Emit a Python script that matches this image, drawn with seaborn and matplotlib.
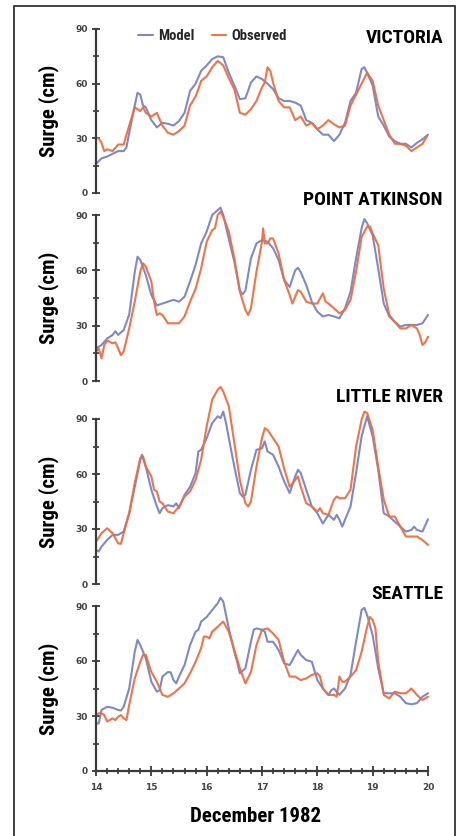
import matplotlib
matplotlib.use("Agg")
import matplotlib.pyplot as plt
import seaborn as sns
from matplotlib import font_manager as fm
from matplotlib.font_manager import FontProperties
from matplotlib.patches import Rectangle
from matplotlib.ticker import MultipleLocator

# ---------------- data ----------------
stations = ["VICTORIA", "POINT ATKINSON", "LITTLE RIVER", "SEATTLE"]
series_labels = ["Model", "Observed"]
x_ticks = [14, 15, 16, 17, 18, 19, 20]
y_ticks = [0, 30, 60, 90]
x_label = "December 1982"
y_label = "Surge (cm)"

vic_model_day = [14.0, 14.1, 14.2, 14.3, 14.4, 14.5, 14.55, 14.6, 14.7, 14.75, 14.8, 14.85, 14.9, 15.0,
                 15.1, 15.2, 15.3, 15.4, 15.5, 15.6, 15.7, 15.8, 15.9, 16.0, 16.1, 16.2, 16.3, 16.4,
                 16.5, 16.6, 16.7, 16.8, 16.9, 17.0, 17.1, 17.2, 17.3, 17.4, 17.5, 17.6, 17.7, 17.8,
                 17.9, 18.0, 18.1, 18.2, 18.3, 18.4, 18.5, 18.6, 18.7, 18.8, 18.85, 18.9, 19.0, 19.1,
                 19.2, 19.3, 19.4, 19.5, 19.6, 19.7, 19.8, 19.9, 20.0]
vic_model_cm = [16, 19, 20, 21.5, 23, 23, 25, 33, 48, 55, 54, 48, 47, 40,
                36, 38.5, 38, 37, 39.5, 44, 56, 60, 67, 70, 73.5, 75, 74.5, 66,
                59, 51.5, 52, 60.6, 64, 62.5, 60, 57, 52, 50.5, 50.5, 49.6, 48, 40,
                38.5, 35, 32, 32, 28.5, 32, 38.5, 50.5, 55, 68, 69, 66, 59, 42,
                37, 31, 28.5, 27, 27, 25, 27.5, 29.5, 32]
vic_obs_day = [14.0, 14.05, 14.1, 14.15, 14.2, 14.3, 14.4, 14.5, 14.6, 14.7, 14.8, 14.85, 14.9, 15.0,
               15.1, 15.2, 15.3, 15.4, 15.5, 15.6, 15.7, 15.8, 15.85, 15.9, 16.0, 16.1, 16.2, 16.3,
               16.4, 16.5, 16.6, 16.7, 16.8, 16.9, 17.0, 17.05, 17.1, 17.15, 17.2, 17.3, 17.4, 17.5,
               17.6, 17.7, 17.8, 17.9, 18.0, 18.1, 18.2, 18.3, 18.4, 18.5, 18.6, 18.7, 18.8, 18.9,
               19.0, 19.1, 19.2, 19.3, 19.4, 19.5, 19.6, 19.7, 19.8, 19.9, 19.98]
vic_obs_cm = [30, 30, 27.5, 23, 24, 23, 26.6, 26.6, 37, 47, 45, 47, 44, 42,
              44, 37, 33, 32, 34, 37, 48, 53, 57, 61.5, 64, 69, 72.5, 70,
              63, 57, 44, 43, 46, 50.5, 58, 60.6, 69, 67, 60.6, 50.5, 47, 47,
              40, 42, 37, 38.5, 35, 37, 40, 37.7, 36, 37, 48, 54, 60, 66,
              61.5, 48, 40, 32, 27, 27, 26, 23, 25, 27, 31]

pa_model_day = [14.0, 14.1, 14.2, 14.3, 14.35, 14.4, 14.5, 14.6, 14.7, 14.75, 14.8, 14.9, 15.0, 15.1,
                15.2, 15.3, 15.4, 15.5, 15.6, 15.7, 15.8, 15.9, 16.0, 16.1, 16.2, 16.25, 16.3, 16.4,
                16.5, 16.6, 16.65, 16.7, 16.8, 16.9, 17.0, 17.1, 17.2, 17.3, 17.4, 17.5, 17.6, 17.65,
                17.7, 17.8, 17.9, 18.0, 18.1, 18.2, 18.3, 18.4, 18.5, 18.6, 18.7, 18.8, 18.85, 18.9,
                19.0, 19.1, 19.2, 19.3, 19.4, 19.5, 19.6, 19.7, 19.8, 19.9, 20.0]
pa_model_cm = [17.7, 19.5, 23, 25, 27, 25, 27.6, 36, 59, 67.4, 65.6, 57.5, 46.6, 41,
               42, 43, 44, 43, 45.7, 54, 63, 74.6, 81, 90, 92.7, 94, 90, 77,
               64.7, 49, 47, 49, 66.5, 74.6, 76.4, 75.5, 72, 65.6, 54.8, 51, 60, 61.4,
               59, 52, 43, 37.6, 35, 35.8, 35, 34, 39.4, 48.4, 66.5, 82.8, 87.8, 85.5,
               79, 61, 42, 35, 32, 29.5, 30.4, 30.4, 30.4, 31.3, 35.8]
pa_obs_day = [14.0, 14.05, 14.1, 14.15, 14.2, 14.3, 14.35, 14.4, 14.45, 14.5, 14.6, 14.7, 14.8, 14.85,
              14.9, 15.0, 15.05, 15.1, 15.15, 15.2, 15.3, 15.4, 15.5, 15.6, 15.7, 15.8, 15.9, 16.0,
              16.1, 16.15, 16.2, 16.25, 16.3, 16.4, 16.5, 16.6, 16.7, 16.75, 16.8, 16.9, 17.0, 17.02,
              17.05, 17.1, 17.15, 17.2, 17.3, 17.4, 17.5, 17.55, 17.6, 17.65, 17.7, 17.8, 17.9, 18.0,
              18.05, 18.1, 18.15, 18.2, 18.3, 18.4, 18.5, 18.6, 18.7, 18.8, 18.9, 18.95, 19.0, 19.1,
              19.2, 19.3, 19.4, 19.5, 19.6, 19.7, 19.8, 19.85, 19.9, 19.95, 20.0]
pa_obs_cm = [16, 17.7, 12.3, 19.5, 22, 20.4, 21, 17.7, 14, 16, 28.5, 43, 59.3, 63.8,
             62, 54, 43, 35.8, 36.7, 35.8, 31.3, 31.3, 31.3, 35, 43, 50, 61, 75.5,
             81.8, 82.8, 90, 91.8, 89, 81, 66.5, 48.4, 38.5, 35.8, 39.4, 59.3, 75.5, 82.8,
             74.6, 74.6, 77.3, 77.3, 69, 54.8, 46.6, 42, 45.7, 49.3, 48.4, 43, 42, 42,
             44.8, 47.5, 43, 42, 39.4, 36.7, 38.5, 44, 59.3, 78, 83.7, 83.7, 80, 73.7,
             50, 35.8, 32, 28.5, 28.5, 30.4, 28.5, 25, 19.5, 21, 24]

lr_model_day = [14.0, 14.05, 14.1, 14.2, 14.3, 14.4, 14.5, 14.6, 14.7, 14.8, 14.83, 14.9, 15.0, 15.1,
                15.15, 15.2, 15.3, 15.4, 15.45, 15.5, 15.6, 15.7, 15.8, 15.85, 15.9, 16.0, 16.1, 16.2,
                16.25, 16.3, 16.35, 16.4, 16.5, 16.6, 16.65, 16.7, 16.8, 16.9, 17.0, 17.05, 17.1, 17.2,
                17.3, 17.4, 17.5, 17.6, 17.65, 17.7, 17.8, 17.9, 18.0, 18.1, 18.2, 18.3, 18.35, 18.4,
                18.45, 18.5, 18.6, 18.7, 18.8, 18.9, 19.0, 19.1, 19.2, 19.3, 19.4, 19.5, 19.6, 19.7,
                19.75, 19.8, 19.9, 20.0]
lr_model_cm = [18.6, 17.7, 20.4, 24, 26.8, 26.8, 28.6, 38.6, 53, 67.8, 70.5, 64, 51.4, 42.3,
               38.6, 41.4, 43, 42.3, 44, 41.4, 48.6, 53, 60.5, 72.3, 73.2, 79.6, 87.8, 91.5,
               90.5, 94, 87.8, 79.6, 64, 49.6, 47.7, 48.6, 62.3, 73.2, 74, 77.8, 72.3, 70.5,
               64, 56, 49.6, 58.7, 62.3, 60.5, 51.4, 42.3, 38.6, 33, 37.7, 35, 37.7, 35,
               31.3, 35, 42.3, 60.5, 80.5, 91.5, 80.5, 62.3, 38.6, 36.8, 34, 31.3, 28.6, 29.5,
               31.3, 29.5, 28.6, 35.3]
lr_obs_day = [14.0, 14.1, 14.2, 14.3, 14.4, 14.45, 14.5, 14.6, 14.7, 14.8, 14.85, 14.9, 15.0, 15.05,
              15.1, 15.15, 15.2, 15.3, 15.4, 15.5, 15.6, 15.7, 15.8, 15.9, 16.0, 16.1, 16.2, 16.25,
              16.3, 16.4, 16.5, 16.6, 16.7, 16.75, 16.8, 16.9, 17.0, 17.05, 17.1, 17.2, 17.3, 17.4,
              17.5, 17.6, 17.65, 17.7, 17.8, 17.9, 18.0, 18.05, 18.1, 18.2, 18.3, 18.35, 18.4, 18.5,
              18.6, 18.7, 18.8, 18.85, 18.9, 19.0, 19.1, 19.2, 19.3, 19.4, 19.5, 19.6, 19.7, 19.8,
              19.9, 20.0]
lr_obs_cm = [23, 27.7, 30.4, 27.7, 22.2, 21.9, 27.7, 38.6, 55, 68.7, 69.6, 64, 58.7, 51.4,
             50.5, 45, 44, 39.5, 38.6, 42.3, 47.7, 50.5, 56.8, 67.8, 86, 100.6, 106, 107.5,
             105, 97, 77, 56.8, 44, 42.3, 45, 64, 79.6, 85, 84, 79.6, 75, 63,
             53, 56.8, 58.7, 53, 44, 42.3, 39.5, 41.4, 38.6, 37.7, 46, 47.7, 46.8, 46.8,
             51.4, 75, 89.6, 94, 93.3, 84, 64, 46, 36.8, 36.8, 31.3, 25.9, 25.9, 25.9,
             24, 21.3]

sea_model_day = [14.0, 14.05, 14.1, 14.2, 14.3, 14.4, 14.45, 14.5, 14.6, 14.7, 14.75, 14.8, 14.9, 15.0,
                 15.1, 15.15, 15.2, 15.3, 15.35, 15.4, 15.45, 15.5, 15.6, 15.7, 15.8, 15.85, 15.9, 16.0,
                 16.1, 16.2, 16.25, 16.3, 16.4, 16.5, 16.55, 16.6, 16.7, 16.8, 16.85, 16.9, 17.0, 17.05,
                 17.1, 17.2, 17.3, 17.4, 17.5, 17.6, 17.65, 17.7, 17.8, 17.9, 18.0, 18.1, 18.2, 18.25,
                 18.3, 18.4, 18.5, 18.6, 18.7, 18.8, 18.85, 18.9, 19.0, 19.1, 19.2, 19.3, 19.4, 19.5,
                 19.6, 19.7, 19.8, 19.9, 20.0]
sea_model_cm = [26, 26, 33.3, 35, 34.5, 33.3, 33, 35, 45, 65, 71.5, 68.7, 61.5, 48.7,
                43.3, 44, 51.5, 54, 53.8, 49.6, 47.8, 51.5, 57.8, 68.7, 76, 77, 81.5, 84,
                87.8, 91.5, 94.5, 92.4, 77.8, 65, 59.6, 53.3, 56, 70.5, 77, 77.8, 77, 76,
                70.5, 70.5, 66, 58.7, 57.8, 63.3, 66, 63.3, 60.5, 59.6, 49.6, 45, 41.5, 44,
                45, 41.5, 45, 52.4, 70.5, 87.8, 89, 85, 74, 56, 42.4, 42.4, 42.4, 40.5,
                37, 36.4, 37, 40.5, 42.4]
sea_obs_day = [14.0, 14.05, 14.1, 14.15, 14.2, 14.3, 14.35, 14.4, 14.45, 14.5, 14.55, 14.6, 14.7, 14.8,
               14.85, 14.9, 15.0, 15.1, 15.2, 15.3, 15.4, 15.5, 15.6, 15.7, 15.8, 15.9, 15.95, 16.0,
               16.05, 16.1, 16.2, 16.3, 16.4, 16.5, 16.6, 16.7, 16.8, 16.9, 17.0, 17.1, 17.2, 17.3,
               17.4, 17.5, 17.6, 17.7, 17.8, 17.9, 18.0, 18.05, 18.1, 18.2, 18.3, 18.35, 18.4, 18.45,
               18.5, 18.6, 18.7, 18.8, 18.9, 18.95, 19.0, 19.05, 19.1, 19.2, 19.3, 19.4, 19.5, 19.6,
               19.7, 19.8, 19.9, 20.0]
sea_obs_cm = [30.5, 31.5, 31.5, 30.5, 27, 28.7, 27.8, 29.6, 30.5, 28.7, 27.8, 36, 50.5, 59.6,
              63.3, 63.3, 54, 48.7, 41.5, 40.5, 42.4, 45, 47.8, 53.3, 59.6, 67, 73.3, 73.3,
              72.4, 76, 78.7, 81.5, 76, 66, 56, 47.8, 54, 68.7, 77, 77.8, 75, 71.5,
              59.6, 51.5, 51.5, 49.6, 50.5, 52.4, 53.3, 51.5, 45, 41.5, 41.5, 40.5, 51.5, 48.7,
              48.7, 51.5, 55, 65, 78.7, 84, 82.4, 77.8, 59.6, 41.5, 39.6, 43.3, 42.4, 42.4,
              45, 41.5, 38.7, 40.5]

model_days = [vic_model_day, pa_model_day, lr_model_day, sea_model_day]
model_vals = [vic_model_cm, pa_model_cm, lr_model_cm, sea_model_cm]
obs_days = [vic_obs_day, pa_obs_day, lr_obs_day, sea_obs_day]
obs_vals = [vic_obs_cm, pa_obs_cm, lr_obs_cm, sea_obs_cm]

# ---------------- style ----------------
MODEL_COLOR = "#6f7cc8"
OBS_COLOR = "#f26b3c"
AXIS_COLOR = "#3a3a3a"

sns.set_style("ticks")


def find_narrow_bold():
    prefs = ["liberation sans narrow", "roboto condensed", "open sans condensed",
             "dejavu sans condensed", "noto sans condensed", "noto sans"]

    def is_bold(f):
        w = f.weight
        if isinstance(w, str):
            return w.lower() in ("bold", "heavy", "black", "semibold", "demibold", "extra bold", "ultrabold")
        return w >= 600

    def is_narrow(f):
        nm, fn, s = f.name.lower(), f.fname.lower(), f.stretch
        if "narrow" in nm or "condensed" in nm or "narrow" in fn or "condensed" in fn:
            return True
        if isinstance(s, str):
            return "condensed" in s
        return s < 500

    cands = [f for f in fm.fontManager.ttflist
             if is_bold(f) and is_narrow(f) and f.style == "normal"
             and "italic" not in f.fname.lower() and "extra" not in f.fname.lower()
             and "semi" not in f.fname.lower()]
    if not cands:
        return None

    def rank(f):
        key = (f.name + " " + f.fname).lower()
        for i, p in enumerate(prefs):
            if p.replace(" ", "") in key.replace(" ", "").replace("-", "").replace("_", ""):
                return i
        return len(prefs)
    cands.sort(key=rank)
    return cands[0].fname


narrow_path = find_narrow_bold()


def nfont(size):
    if narrow_path:
        return FontProperties(fname=narrow_path, size=size)
    return FontProperties(family="DejaVu Sans", weight="bold", size=size * 0.8)


tick_font = FontProperties(family="DejaVu Sans", weight="bold", size=6.5)

W, H = 460, 836
fig = plt.figure(figsize=(W / 100, H / 100), dpi=100)
fig.patch.set_facecolor("white")

# panel geometry (pixels: y of 0 and of 90)
x_left, x_right = 96, 428
panels_px = [(193, 29), (381, 215), (584, 419), (771, 606)]
title_baseline = [43.3, 205, 401.7, 599.3]

axes = []
for i, (y0, y90) in enumerate(panels_px):
    ax = fig.add_axes([x_left / W, 1 - y0 / H, (x_right - x_left) / W, (y0 - y90) / H])
    ax.set_facecolor("none")
    sns.lineplot(x=model_days[i], y=model_vals[i], ax=ax, color=MODEL_COLOR, lw=1.5,
                 alpha=0.9, clip_on=False, sort=False)
    sns.lineplot(x=obs_days[i], y=obs_vals[i], ax=ax, color=OBS_COLOR, lw=1.5,
                 alpha=0.95, clip_on=False, sort=False)
    ax.set_xlim(14, 20)
    ax.set_ylim(0, 90)
    for s in ("top", "right"):
        ax.spines[s].set_visible(False)
    ax.spines["left"].set_color(AXIS_COLOR)
    ax.spines["left"].set_linewidth(1.6)
    ax.set_yticks(y_ticks)
    ax.set_yticklabels([str(v) for v in y_ticks], fontproperties=tick_font, color="#444444")
    ax.yaxis.set_minor_locator(MultipleLocator(15))
    ax.tick_params(axis="y", which="major", direction="inout", length=6, width=1.3,
                   color=AXIS_COLOR, pad=3)
    ax.tick_params(axis="y", which="minor", direction="inout", length=5, width=1.2,
                   color=AXIS_COLOR)
    ax.set_ylabel(y_label, fontproperties=nfont(15), color="black")
    ax.yaxis.set_label_coords(-0.112, 0.5)
    if i < 3:
        ax.spines["bottom"].set_visible(False)
        ax.set_xticks([])
        ax.set_xlabel("")
    else:
        ax.spines["bottom"].set_color(AXIS_COLOR)
        ax.spines["bottom"].set_linewidth(1.6)
        ax.set_xticks(x_ticks)
        ax.set_xticklabels([str(v) for v in x_ticks], fontproperties=tick_font, color="#444444")
        ax.xaxis.set_minor_locator(MultipleLocator(0.2))
        ax.tick_params(axis="x", which="major", direction="inout", length=7, width=1.3,
                       color=AXIS_COLOR, pad=5)
        ax.tick_params(axis="x", which="minor", direction="inout", length=5, width=1.2,
                       color=AXIS_COLOR)
        ax.set_xlabel(x_label, fontproperties=nfont(15), color="black")
        ax.xaxis.set_label_coords((255.5 - x_left) / (x_right - x_left), (y0 - 807) / (y0 - y90))
    fig.text(443 / W, 1 - title_baseline[i] / H, stations[i], ha="right", va="baseline",
             fontproperties=nfont(14), color="black")
    axes.append(ax)

# legend in top panel
ax0 = axes[0]
handles = ax0.get_lines()[:2]
leg = ax0.legend(handles, series_labels, loc="center left",
                 bbox_to_anchor=(138 / W, 1 - 36 / H), bbox_transform=fig.transFigure,
                 ncol=2, frameon=False, handlelength=1.0, handletextpad=0.35,
                 columnspacing=1.2, borderpad=0, borderaxespad=0, prop=nfont(10.5))

# outer border (open at bottom)
fig.add_artist(Rectangle((14.5 / W, -0.05), (455.5 - 14.5) / W, 1.05 - 6.5 / H,
                         transform=fig.transFigure, fill=False, edgecolor="#222222",
                         linewidth=1.2, clip_on=False))

fig.savefig("out.png", dpi=100, facecolor="white")
